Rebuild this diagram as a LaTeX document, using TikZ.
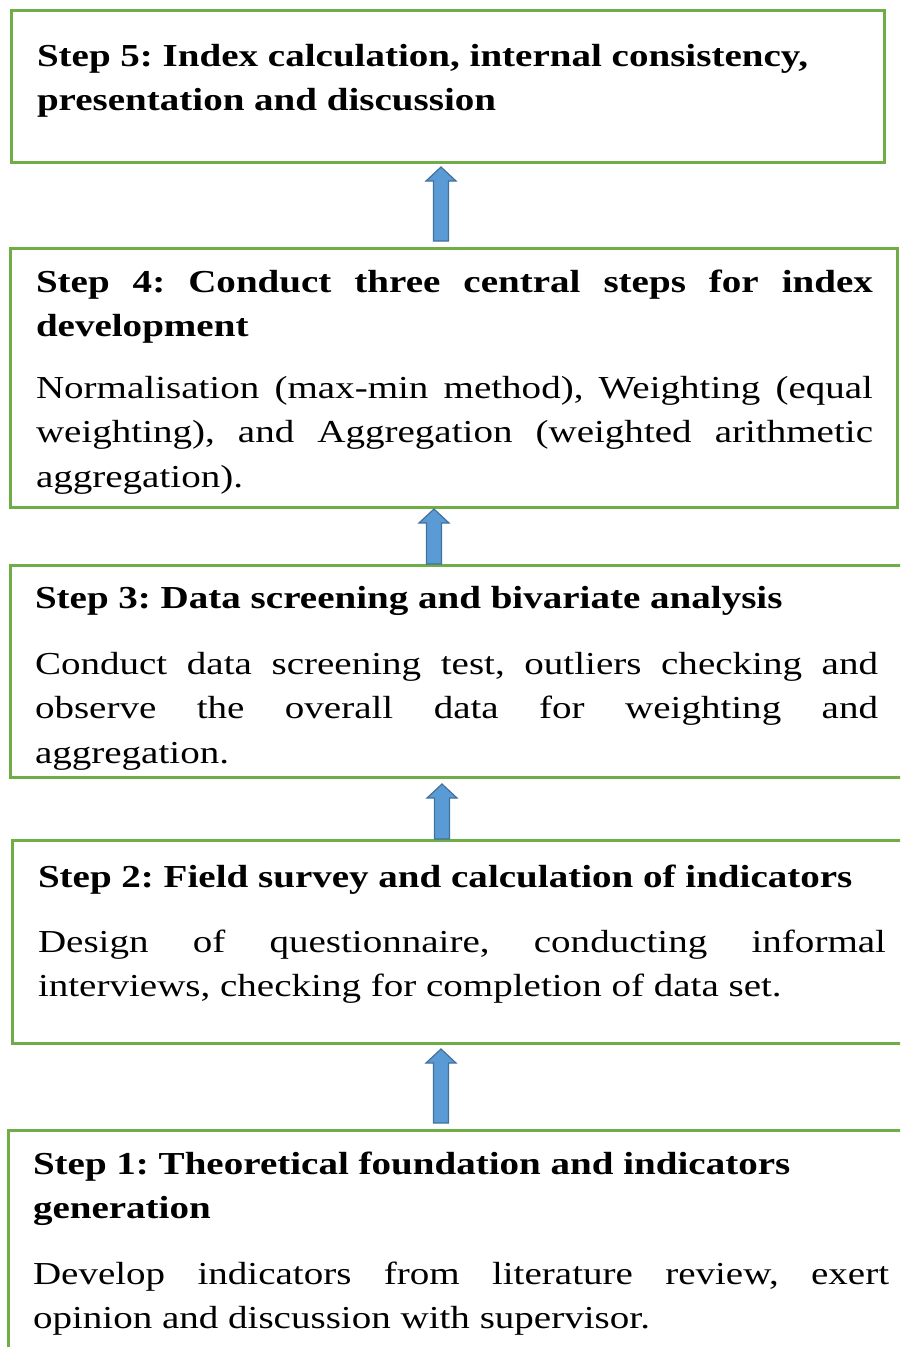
\documentclass[tikz,border=0pt]{standalone}
\usepackage{fontspec}
\setmainfont[FakeStretch=1.22]{Liberation Serif}
\usetikzlibrary{calc}

\definecolor{boxgreen}{HTML}{70AD47}
\definecolor{arrowfill}{HTML}{5B9BD5}
\definecolor{arrowedge}{HTML}{41719C}

\tikzset{
  stepbox/.style={draw=boxgreen, line width=3pt, fill=none, rectangle,
    inner sep=0pt, outer sep=0pt, anchor=north west},
  steptext/.style={anchor=base west, inner sep=0pt, outer sep=0pt,
    align=justify, font=\fontsize{32}{44.5}\selectfont},
  stephead/.style={steptext, font=\fontsize{32}{44}\selectfont\bfseries},
  arrowbody/.style={fill=arrowfill, draw=arrowedge, line width=1.2pt, line join=miter}
}

% upward block arrow from a tail coordinate to a tip coordinate
\newcommand\blockarrow[2]{%
  \filldraw[arrowbody] ($(#1)+(-7.5,0)$) -- ($(#2)+(-7.5,14)$) -- ($(#2)+(-15,14)$)
    -- (#2) -- ($(#2)+(15,14)$) -- ($(#2)+(7.5,14)$) -- ($(#1)+(7.5,0)$) -- cycle;}

\begin{document}
\frenchspacing
\begin{tikzpicture}[x=1pt, y=-1pt]
\useasboundingbox (0,0) rectangle (900,1347);
\fill[white] (0,0) rectangle (900,1347);
\clip (0,0) rectangle (900,1347);
\sloppy\hyphenpenalty=10000

% Step 5
\node[stepbox, minimum width=873pt, minimum height=152pt] (b5) at (11,10) {};
\node[stephead, text width=823pt] (h5) at (37,66)
  {Step 5: Index calculation, internal consistency,\\ presentation and discussion};

% Step 4
\node[stepbox, minimum width=887pt, minimum height=259pt] (b4) at (10,248) {};
\node[stephead, text width=837pt] (h4) at (36,292)
  {Step 4: Conduct three central steps for index\linebreak development};
\node[steptext, text width=837pt] (t4) at (36,398)
  {Normalisation (max-min method), Weighting (equal\linebreak weighting), and Aggregation (weighted arithmetic\linebreak aggregation).};

% Step 3
\node[stepbox, minimum width=900pt, minimum height=212pt] (b3) at (10,565) {};
\node[stephead, text width=843pt] (h3) at (35,608)
  {Step 3: Data screening and bivariate analysis};
\node[steptext, text width=843pt] (t3) at (35,674)
  {Conduct data screening test, outliers checking and\linebreak observe the overall data for weighting and\linebreak aggregation.};

% Step 2
\node[stepbox, minimum width=900pt, minimum height=203pt] (b2) at (12,840) {};
\node[stephead, text width=848pt] (h2) at (38,887)
  {Step 2: Field survey and calculation of indicators};
\node[steptext, text width=848pt] (t2) at (38,952)
  {Design of questionnaire, conducting informal\linebreak interviews, checking for completion of data set.};

% Step 1
\node[stepbox, minimum width=900pt, minimum height=240pt] (b1) at (8,1130) {};
\node[stephead, text width=856pt] (h1) at (33,1174)
  {Step 1: Theoretical foundation and indicators\\ generation};
\node[steptext, text width=856pt] (t1) at (33,1284)
  {Develop indicators from literature review, exert\linebreak opinion and discussion with supervisor.};

% arrow end points
\coordinate (a54tail) at (441,241);
\coordinate (a54tip)  at (441,167);
\coordinate (a43tail) at (434,564);
\coordinate (a43tip)  at (434,509);
\coordinate (a32tail) at (442,839);
\coordinate (a32tip)  at (442,784);
\coordinate (a21tail) at (441,1123);
\coordinate (a21tip)  at (441,1049);

\blockarrow{a54tail}{a54tip}
\blockarrow{a43tail}{a43tip}
\blockarrow{a32tail}{a32tip}
\blockarrow{a21tail}{a21tip}
\end{tikzpicture}
\end{document}
